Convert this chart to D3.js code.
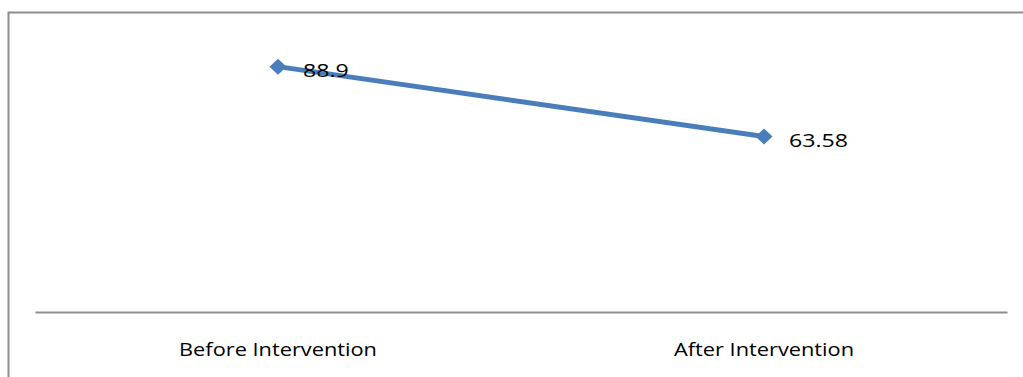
<!DOCTYPE html>
<html>
<head>
<meta charset="utf-8">
<script src="https://cdn.jsdelivr.net/npm/d3@7"></script>
<style>
  html, body { margin: 0; padding: 0; background: #fff; }
  svg { display: block; }
  text { font-family: "Open Sans", "Liberation Sans", sans-serif; fill: #000; }
</style>
</head>
<body>
<svg id="chart" width="1023" height="377"></svg>
<script>
// Phases compared and the mean score recorded for each
const categories = ["Before Intervention", "After Intervention"];
const scores = [88.9, 63.58];
const valueLabels = ["88.9", "63.58"];

const W = 1023, H = 377;
const svg = d3.select("#chart");
const stretch = 1.25;     // value labels are drawn slightly widened
const tickStretch = 1.21; // category labels likewise

// Outer chart frame (right and bottom edges fall outside the canvas)
svg.append("rect")
  .attr("x", 8.5).attr("y", 12.5)
  .attr("width", 1030).attr("height", 400)
  .attr("fill", "none")
  .attr("stroke", "#8e8e8e")
  .attr("stroke-width", 2);

const plot = { left: 35, right: 1007, top: 36, bottom: 312 };

const x = d3.scaleBand()
  .domain(categories)
  .range([plot.left, plot.right]);

const y = d3.scaleLinear()
  .domain([0, 100])
  .range([plot.bottom, plot.top]);

// Category axis
const xAxis = d3.axisBottom(x).tickSize(0).tickPadding(31);
const gx = svg.append("g")
  .attr("transform", `translate(0,${plot.bottom})`)
  .call(xAxis);
gx.select(".domain").attr("stroke", "#8e8e8e").attr("stroke-width", 2);
gx.selectAll(".tick text")
  .attr("font-size", 18)
  .attr("fill", "#000")
  .attr("transform", `scale(${tickStretch},1)`)
  .style("font-family", '"Open Sans", "Liberation Sans", sans-serif');

const cx = d => x(d) + x.bandwidth() / 2;
const pts = categories.map((c, i) => ({ c, v: scores[i], label: valueLabels[i] }));

// Series line
svg.append("path")
  .datum(pts)
  .attr("fill", "none")
  .attr("stroke", "#4a7ebb")
  .attr("stroke-width", 5)
  .attr("d", d3.line().x(d => cx(d.c)).y(d => y(d.v)));

// Diamond markers
svg.selectAll(".marker")
  .data(pts)
  .enter().append("path")
  .attr("class", "marker")
  .attr("transform", d => `translate(${cx(d.c)},${y(d.v)})`)
  .attr("d", "M0,-8L8.5,0L0,8L-8.5,0Z")
  .attr("fill", "#4a7ebb");

// Value labels to the right of each point
svg.selectAll(".vlabel")
  .data(pts)
  .enter().append("text")
  .attr("class", "vlabel")
  .attr("transform", d => `translate(${cx(d.c) + 25},${y(d.v) + 10}) scale(${stretch},1)`)
  .attr("font-size", 18.5)
  .text(d => d.label);
</script>
</body>
</html>
